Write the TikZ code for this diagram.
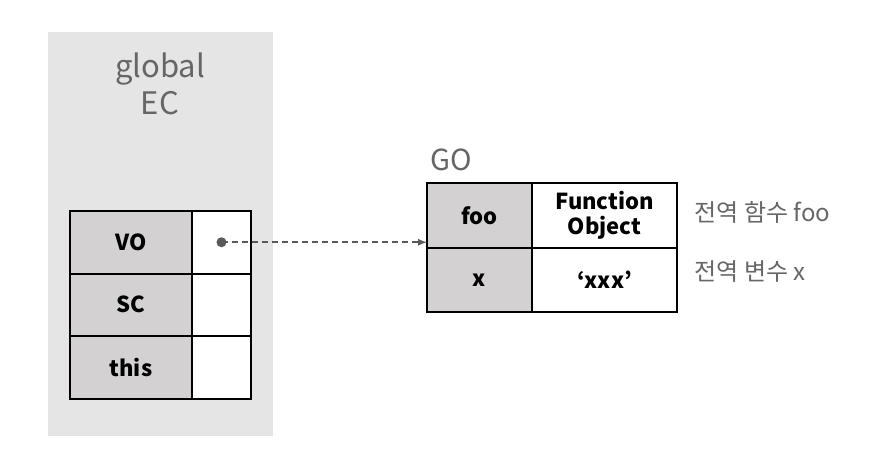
\documentclass[tikz,border=0pt]{standalone}
\usepackage{fontspec}
\setmainfont{Noto Sans CJK KR}
\usetikzlibrary{positioning}
\definecolor{panelgray}{HTML}{E5E5E5}
\definecolor{keygray}{HTML}{D3D1D2}
\definecolor{labelgray}{HTML}{666666}
\definecolor{arrowgray}{HTML}{5A5A5A}

\begin{document}
\begin{tikzpicture}[> = latex, x=1pt, y=-1pt]
    \tikzset{
      cell/.style={draw, line width=2pt, inner sep=0pt, outer sep=0pt, align=center,
        font=\fontsize{22}{25}\selectfont\bfseries},
      eckey/.style={cell, fill=keygray, minimum width=122pt, minimum height=62.5pt},
      ecval/.style={cell, fill=white, minimum width=59pt, minimum height=62.5pt},
      gokey/.style={cell, fill=keygray, minimum width=105pt, minimum height=64.5pt},
      goval/.style={cell, fill=white, minimum width=145pt, minimum height=64.5pt},
      note/.style={text=labelgray, font=\fontsize{24}{28}\selectfont},
    }
    \useasboundingbox (0,0) rectangle (874,460);
    % global EC panel
    \node [fill=panelgray, minimum width=225pt, minimum height=404pt, anchor=north west] (panel) at (48,32) {};
    \node [text=labelgray, align=center, font=\fontsize{31}{37}\selectfont] (ectitle) at (160,84) {global\\EC};
    \node [eckey, anchor=north west] (vokey) at (70,211) {VO};
    \node [ecval, right=0pt of vokey] (voval) {};
    \node [eckey, below=0pt of vokey] (sckey) {SC};
    \node [ecval, right=0pt of sckey] (scval) {};
    \node [eckey, below=0pt of sckey] (thiskey) {this};
    \node [ecval, right=0pt of thiskey] (thisval) {};
    % GO table
    \node [gokey, anchor=north west] (fookey) at (427,183) {foo};
    \node [goval, right=0pt of fookey] (fooval) {Function\\Object};
    \node [gokey, below=0pt of fookey] (xkey) {x};
    \node [goval, right=0pt of xkey] (xval) {‘xxx’};
    \node [text=labelgray, font=\fontsize{29}{33}\selectfont, anchor=south west] (gotitle) at (427,174) {GO};
    \node [note, anchor=west] (foonote) at (691,212) {전역 함수 foo};
    \node [note, anchor=west] (xnote) at (691,272) {전역 변수 x};
    % VO points to GO
    \coordinate (goin) at (fookey.west |- voval.center);
    \fill [arrowgray] (voval.center) circle (5pt);
    \draw [->, arrowgray, line width=2pt, dash pattern=on 6pt off 4pt] (voval.center) -- (goin);
  \end{tikzpicture}
\end{document}
